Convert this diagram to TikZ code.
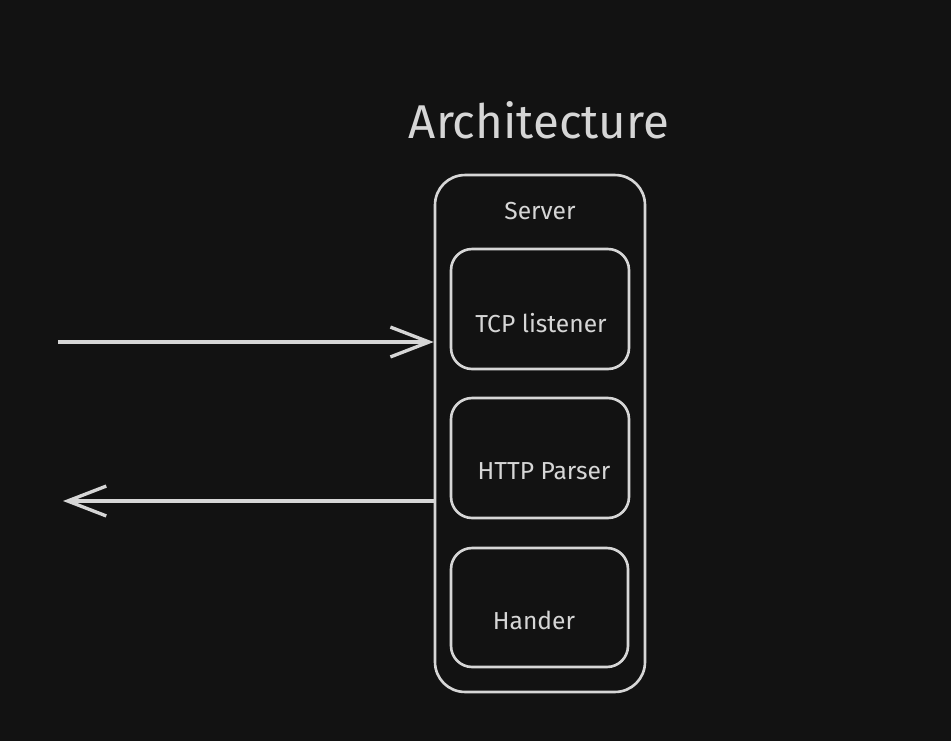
\documentclass[tikz,border=0pt]{standalone}
\usepackage{fontspec}
\setmainfont{Fira Sans}
\usetikzlibrary{arrows.meta}
\definecolor{bgdark}{HTML}{121212}
\definecolor{inkgray}{HTML}{D6D6D6}
\tikzset{
  block/.style = {draw = inkgray, line width = 1.5pt, rounded corners = 12pt},
  lbl/.style = {text = inkgray, font = \fontsize{14}{16}\selectfont},
  flow/.style = {draw = inkgray, line width = 1.9pt, -{Straight Barb[length = 22pt, width = 17pt, line width = 1.9pt]}}
}

\begin{document}
\begin{tikzpicture}[x = 0.02cm, y = -0.02cm]
\fill [bgdark] (0, 0) rectangle (951, 741);
\useasboundingbox (0, 0) rectangle (951, 741);
%\draw [very thin, color = gray](0, 0) grid [step = 50] (951, 741);
\node [text = inkgray, font = \fontsize{27}{32}\selectfont] (title) at (539, 120) {Architecture};
\node [block, rounded corners = 17pt, minimum width = 4.2cm, minimum height = 10.34cm] (server) at (540, 433.5) {};
\node [lbl] (srvname) at (540, 211) {Server};
\node [block, minimum width = 3.56cm, minimum height = 2.4cm] (tcp) at (540, 309) {};
\node [lbl] at (541, 323) {TCP listener};
\node [block, minimum width = 3.56cm, minimum height = 2.4cm] (http) at (540, 458) {};
\node [lbl] at (544, 471) {HTTP Parser};
\node [block, minimum width = 3.54cm, minimum height = 2.38cm] (hander) at (539.5, 607.5) {};
\node [lbl] at (534, 620) {Hander};
\coordinate (request) at (58, 342);
\coordinate (response) at (63, 501);
\draw [flow] (request) to (request -| server.west);
\draw [flow] (response -| server.west) to (response);
\end{tikzpicture}
\end{document}
